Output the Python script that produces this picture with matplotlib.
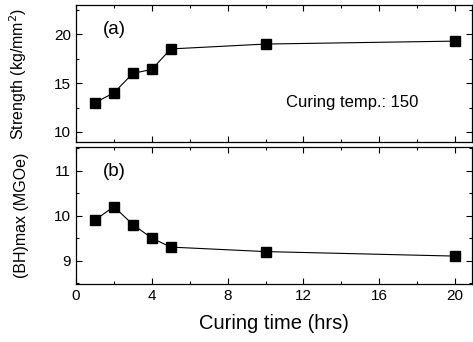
import matplotlib
matplotlib.use("Agg")
import matplotlib.pyplot as plt
from matplotlib.ticker import MultipleLocator

plt.rcParams['font.family'] = ['Liberation Sans', 'DejaVu Sans']

# curing time (hrs)
hours = [1, 2, 3, 4, 5, 10, 20]
strength = [13.0, 14.0, 16.0, 16.4, 18.5, 19.0, 19.3]
bhmax = [9.9, 10.2, 9.8, 9.5, 9.3, 9.2, 9.1]

fig = plt.figure(figsize=(4.73, 3.42), dpi=100)
ax1 = fig.add_axes([0.1607, 0.5857, 0.8373, 0.3997])
ax2 = fig.add_axes([0.1607, 0.1696, 0.8373, 0.4014])

for ax in (ax1, ax2):
    ax.set_xlim(0, 20.9)
    ax.xaxis.set_major_locator(MultipleLocator(4))
    ax.xaxis.set_minor_locator(MultipleLocator(2))
    ax.tick_params(which='both', direction='in', top=True, right=True,
                   labelsize=11)
    ax.tick_params(which='major', length=4, width=0.8)
    ax.tick_params(which='minor', length=2.5, width=0.8)
    for s in ax.spines.values():
        s.set_linewidth(0.9)

ax1.plot(hours, strength, 'k-', lw=0.8, marker='s', ms=7.5)
ax1.set_ylim(9, 23)
ax1.yaxis.set_major_locator(MultipleLocator(5))
ax1.yaxis.set_minor_locator(MultipleLocator(2.5))
ax1.tick_params(labelbottom=False)
ax1.set_ylabel('Strength (kg/mm$^2$)', fontsize=11.5, labelpad=18)
ax1.text(1.42, 20.45, '(a)', fontsize=13.5, va='center')
ax1.text(11.08, 13.05, 'Curing temp.: 150', fontsize=12, va='center')

ax2.plot(hours, bhmax, 'k-', lw=0.8, marker='s', ms=7.5)
ax2.set_ylim(8.48, 11.53)
ax2.yaxis.set_major_locator(MultipleLocator(1))
ax2.yaxis.set_minor_locator(MultipleLocator(0.5))
ax2.set_ylabel('(BH)max (MGOe)', fontsize=11.5, labelpad=18)
ax2.text(1.42, 10.97, '(b)', fontsize=13.5, va='center')
ax2.set_xlabel('Curing time (hrs)', fontsize=14.5, labelpad=8)

fig.align_ylabels([ax1, ax2])
fig.savefig('out.png', dpi=100)
